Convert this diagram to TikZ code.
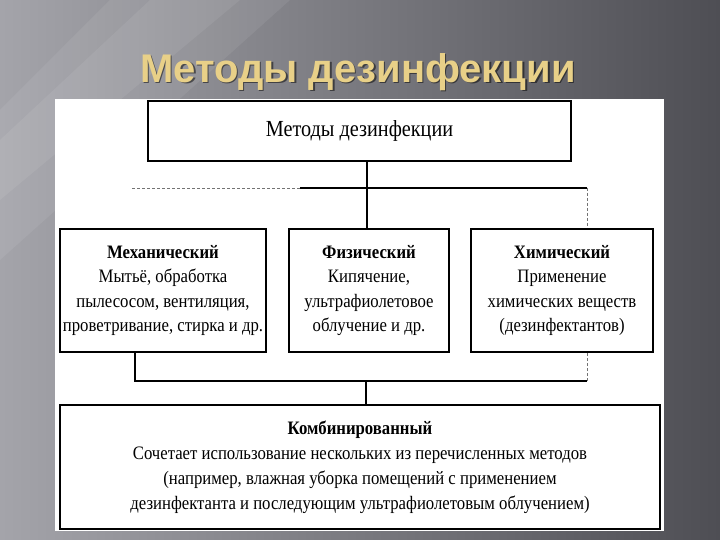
\documentclass[tikz,border=0pt]{standalone}
\usepackage{fontspec}
\setmainfont[FakeStretch=0.88]{Liberation Serif}
\newfontfamily\titlefont{Liberation Sans}
\definecolor{bgleft}{HTML}{A4A4AA}
\definecolor{bgright}{HTML}{4E4E54}
\definecolor{gold}{HTML}{E8D088}
\begin{document}
\begin{tikzpicture}[x=1pt,y=-1pt,
  box/.style={draw,line width=2.4pt,fill=white,inner sep=0pt,align=center,
    font=\fontsize{19}{24.5}\selectfont},
  conn/.style={line width=1.2pt},
  faint/.style={line width=0.8pt,densely dashed,black!55}]
\shade[left color=bgleft,right color=bgright] (0,0) rectangle (720,540);
\useasboundingbox (0,0) rectangle (720,540);
\fill[white,opacity=0.07] (110,0) -- (290,0) -- (0,260) -- (0,110) -- cycle;
\fill[white,opacity=0.07] (150,0) -- (240,0) -- (0,200) -- (0,140) -- cycle;
\fill[white] (55,99) rectangle (664,531);
% title
\node[font=\titlefont\bfseries\fontsize{40}{40}\selectfont,text=black,opacity=0.5] at (359.5,73.5) {Методы дезинфекции};
\node[font=\titlefont\bfseries\fontsize{40}{40}\selectfont,text=gold] (title) at (358,72) {Методы дезинфекции};
% boxes
\node[box,minimum width=423pt,minimum height=60pt,font=\fontsize{23}{24}\selectfont] (top) at (359.5,131) {Методы дезинфекции};
\node[box,minimum width=206pt,minimum height=123pt] (mech) at (163,290.5)
  {\textbf{Механический}\\Мытьё, обработка\\пылесосом, вентиляция,\\проветривание, стирка и др.};
\node[box,minimum width=160pt,minimum height=123pt] (phys) at (369,290.5)
  {\textbf{Физический}\\Кипячение,\\ультрафиолетовое\\облучение и др.};
\node[box,minimum width=182pt,minimum height=123pt] (chem) at (562,290.5)
  {\textbf{Химический}\\Применение\\химических веществ\\(дезинфектантов)};
\node[box,minimum width=600pt,minimum height=124pt,font=\fontsize{19}{25}\selectfont] (comb) at (360,467)
  {\textbf{Комбинированный}\\Сочетает использование нескольких из перечисленных методов\\(например, влажная уборка помещений с применением\\дезинфектанта и последующим ультрафиолетовым облучением)};
% connectors
\coordinate (v1) at (367,188);
\coordinate (h1l) at (132,188);
\coordinate (h1m) at (300,188);
\coordinate (h1r) at (587,188);
\draw[conn] (v1 |- top.south) -- (v1) -- (v1 |- phys.north);
\draw[faint] (h1l) -- (h1m);
\draw[conn] (h1m) -- (h1r);
\draw[faint] (h1r) -- (h1r |- chem.north);
\coordinate (h2l) at (135,381);
\coordinate (h2r) at (587,381);
\coordinate (v2) at (366,381);
\draw[conn] (h2l |- mech.south) -- (h2l) -- (h2r);
\draw[faint] (h2r) -- (h2r |- chem.south);
\draw[conn] (v2) -- (v2 |- comb.north);
\end{tikzpicture}
\end{document}
